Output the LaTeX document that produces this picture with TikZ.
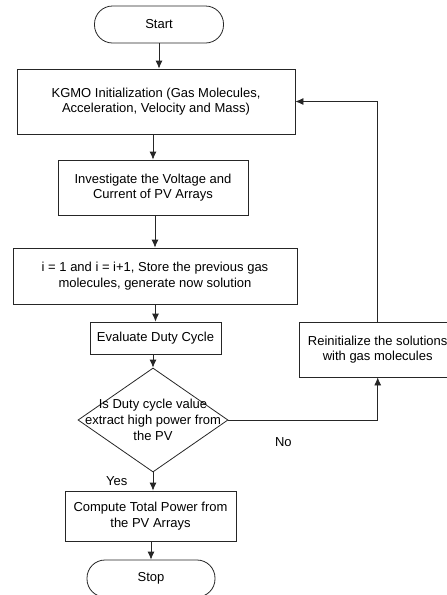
\documentclass[tikz,border=0pt]{standalone}
\usepackage{fontspec}
\setmainfont{Liberation Sans}
\usetikzlibrary{shapes,arrows,arrows.meta,shapes.geometric}

\begin{document}
\begin{tikzpicture}[>={Latex[length=8pt,width=7pt]}, line width=0.8pt]
    \tikzstyle{every node} = [font=\fontsize{13}{15.7}\selectfont]
    \tikzstyle{textbox} = [align=center, draw=black!85, inner sep=2pt]
    \tikzstyle{terminal} = [textbox, rectangle, rounded corners=18pt, minimum width=129pt, minimum height=37pt]
    \tikzstyle{process} = [textbox, rectangle]
    \tikzstyle{decision} = [textbox, diamond, minimum width=150pt, minimum height=104pt, inner sep=-25pt]
    \tikzstyle{line} = [draw=black!85, ->]

    \useasboundingbox (0,0) rectangle (447pt,-595pt);

    \node (start) [terminal] at (159pt,-24.5pt) {Start};
    \node (init) [process, minimum width=278pt, minimum height=65pt, below of=start, node distance=77pt, xshift=-3pt] {KGMO Initialization (Gas Molecules,\\ Acceleration, Velocity and Mass)};
    \node (invest) [process, minimum width=190pt, minimum height=55pt, below of=init, node distance=86pt, xshift=-3pt] {Investigate the Voltage and\\ Current of PV Arrays};
    \node (store) [process, minimum width=284pt, minimum height=56pt, below of=invest, node distance=88.5pt, xshift=2pt] {i = 1 and i = i+1, Store the previous gas\\ molecules, generate now solution};
    \node (eval) [process, minimum width=131pt, minimum height=32pt, below of=store, node distance=62pt, xshift=0.5pt] {Evaluate Duty Cycle};
    \node (dec) [decision, below of=eval, node distance=82pt, xshift=-2.5pt] {Is Duty cycle value\\ extract high power from\\ the PV};
    \node (compute) [process, minimum width=171pt, minimum height=50pt, below of=dec, node distance=96pt, xshift=-2.5pt] {Compute Total Power from\\ the PV Arrays};
    \node (stop) [terminal, minimum width=128pt, below of=compute, node distance=62.5pt, xshift=0.5pt] {Stop};
    \node (reinit) [process, minimum width=157pt, minimum height=55pt, right of=eval, node distance=222.2pt, yshift=-11.5pt] {Reinitialize the solutions\\ with gas molecules};

    \draw [line] (start) -- (start |- init.north);
    \draw [line] (invest |- init.south) -- (invest);
    \draw [line] (store |- invest.south) -- (store);
    \draw [line] (eval |- store.south) -- (eval);
    \draw [line] (dec |- eval.south) -- (dec);
    \draw [line] (dec) -- node[left, xshift=-22pt] {Yes} (dec |- compute.north);
    \draw [line] (stop |- compute.south) -- (stop);
    \draw [line] (dec) -| node[pos=0.184, yshift=-22pt] {No} (reinit);
    \draw [line] (reinit) |- (init);
\end{tikzpicture}
\end{document}
